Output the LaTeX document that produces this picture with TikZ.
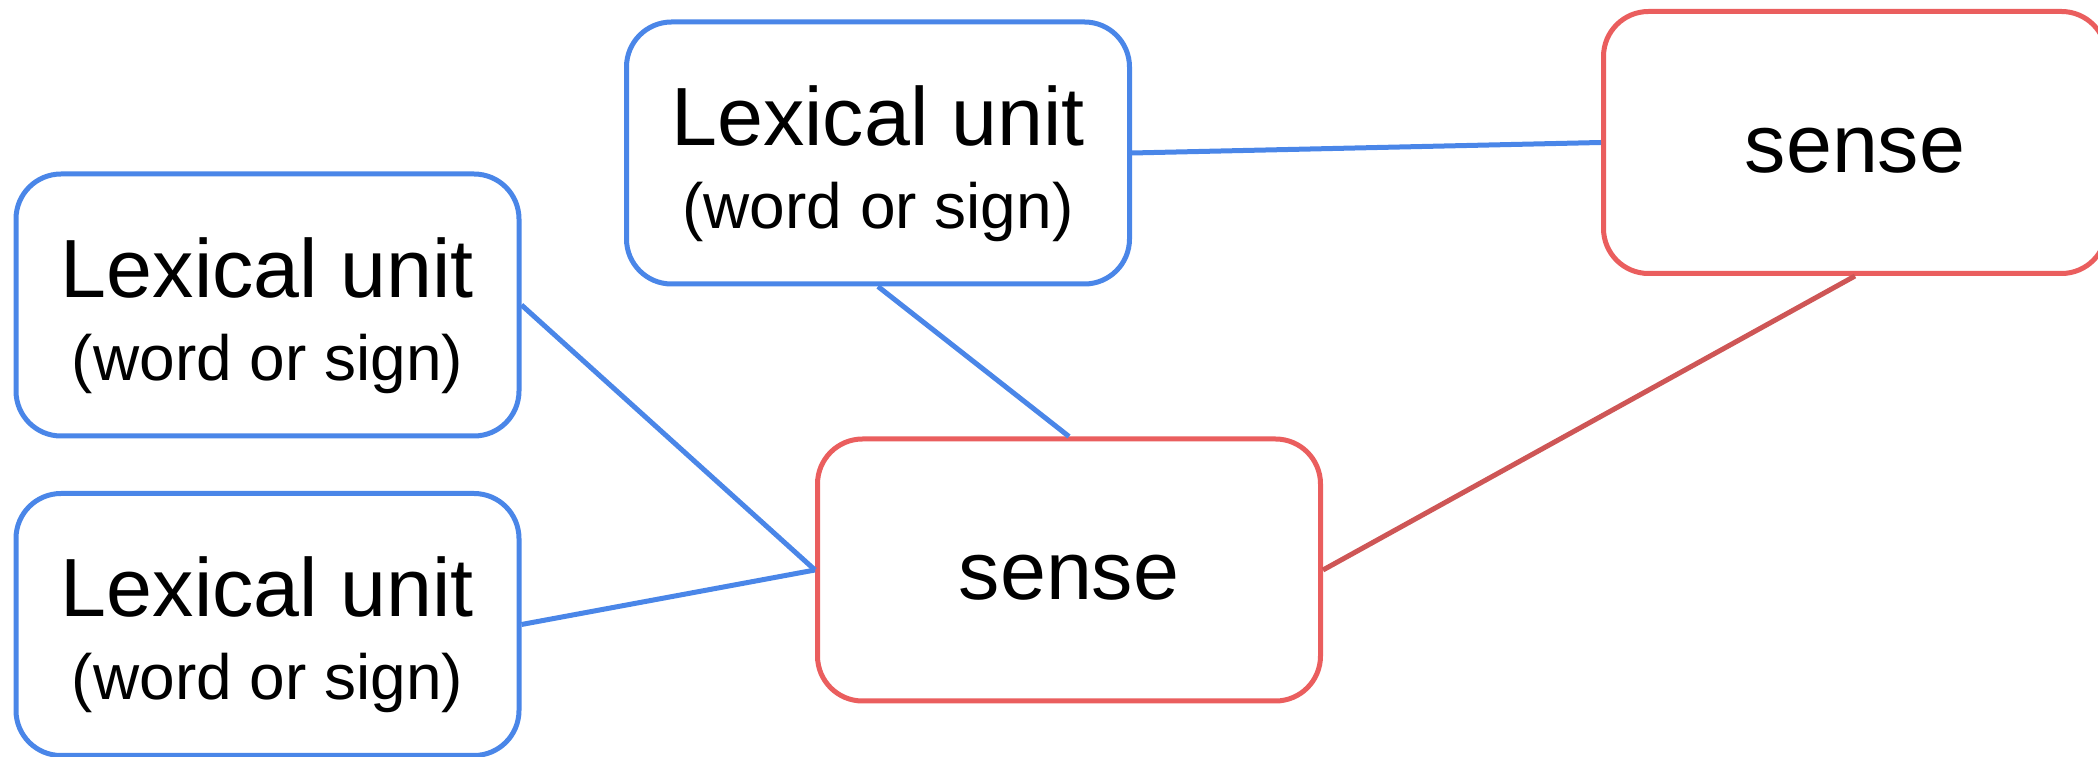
\documentclass[tikz,border=0pt]{standalone}
\usepackage{fontspec}
\setmainfont{Liberation Sans}
\usepackage{tikz}
\usetikzlibrary{positioning,shapes}
\definecolor{luBlue}{RGB}{74,134,232}
\definecolor{senseRed}{RGB}{234,94,94}
\definecolor{linkRed}{RGB}{206,86,86}
\newcommand{\luText}{\rule{0pt}{0.81cm}Lexical unit\\{\fontsize{18.2}{23.6}\selectfont (word or sign)}}
\tikzset {
    style LU/.style={
        fill=white,
        draw=luBlue,
        line width=0.05cm,
        rectangle, % Set the shape as a rectangle
        rounded corners=0.45cm,
        minimum width=5.03cm,
        minimum height=2.62cm,
        align=center,
        font=\fontsize{23.5}{23.6}\selectfont,
    },
    style Sense/.style={
        fill=white,
        draw=senseRed,
        line width=0.05cm,
        rectangle, % Set the shape as a rectangle
        rounded corners=0.45cm,
        minimum width=5.03cm,
        minimum height=2.62cm,
        text height=0.6cm,
        text depth=0cm,
        font=\fontsize{23.5}{23.6}\selectfont,
    },
}
\begin{document}
\begin{tikzpicture}
[blue link/.style={draw=luBlue, line width=0.05cm},
red link/.style={draw=linkRed, line width=0.05cm}]

\useasboundingbox (0,0) rectangle (20.98,-7.57);

\node[style LU] at (8.78,-1.53) (luTop) {\luText};
\node[style LU] at (2.675,-3.05) (luLeftA) {\luText};
\node[style LU] at (2.675,-6.245) (luLeftB) {\luText};
\node[style Sense] at (10.69,-5.70) (senseMid) {sense};
\node[style Sense] at (18.55,-1.425) (senseRight) {sense};

\draw[blue link] (luTop.south) -- (senseMid.north);
\draw[blue link] (luTop.east) -- (senseRight.west);
\draw[blue link] (luLeftA.east) -- (senseMid.west);
\draw[blue link] (luLeftB.east) -- (senseMid.west);
\draw[red link] (senseMid.east) -- (senseRight.south);
\end{tikzpicture}
\end{document}
